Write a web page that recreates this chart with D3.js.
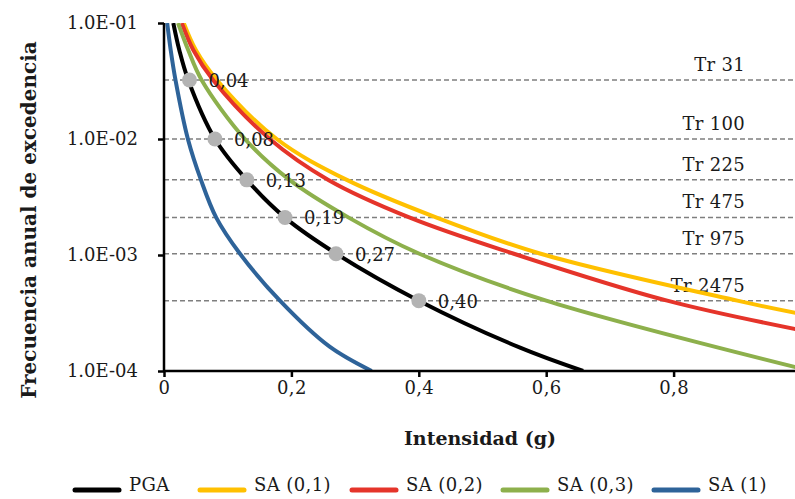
<!DOCTYPE html>
<html>
<head>
<meta charset="utf-8">
<script src="https://cdn.jsdelivr.net/npm/d3@7"></script>
<style>
  body { margin: 0; background: #fff; }
  svg { display: block; font-family: "DejaVu Serif", serif; }
</style>
</head>
<body>
<svg width="795" height="499"></svg>
<script>
"use strict"

// hazard curves: intensity (g) vs annual exceedance frequency
const seriesNames = ["PGA", "SA (0,1)", "SA (0,2)", "SA (0,3)", "SA (1)"]
const seriesColors = ["#000000", "#FFC000", "#E5342A", "#8DB04C", "#2E6399"]

const pgaX = [0.0146, 0.024, 0.038, 0.08, 0.13, 0.19, 0.27, 0.40, 0.56, 0.658]
const pgaY = [1e-1, 5.85e-2, 3.23e-2, 1e-2, 4.44e-3, 2.1e-3, 1.03e-3, 4.04e-4, 1.58e-4, 1e-4]

const sa01X = [0.031, 0.050, 0.083, 0.177, 0.287, 0.428, 0.59, 0.90, 1.0]
const sa01Y = [1e-1, 5.85e-2, 3.23e-2, 1e-2, 4.44e-3, 2.1e-3, 1.03e-3, 4.04e-4, 3.1e-4]

const sa02X = [0.028, 0.046, 0.077, 0.166, 0.258, 0.386, 0.548, 0.79, 1.0]
const sa02Y = [1e-1, 5.85e-2, 3.23e-2, 1e-2, 4.44e-3, 2.1e-3, 1.03e-3, 4.04e-4, 2.25e-4]

const sa03X = [0.022, 0.038, 0.059, 0.127, 0.197, 0.29, 0.40, 0.60, 1.0]
const sa03Y = [1e-1, 5.85e-2, 3.23e-2, 1e-2, 4.44e-3, 2.1e-3, 1.03e-3, 4.04e-4, 1.05e-4]

const sa1X = [0.005, 0.0105, 0.018, 0.0375, 0.058, 0.082, 0.119, 0.182, 0.26, 0.326]
const sa1Y = [1e-1, 5.85e-2, 3.23e-2, 1e-2, 4.44e-3, 2.1e-3, 1.03e-3, 4.04e-4, 1.62e-4, 1e-4]

// return periods and the PGA read at each one
const returnPeriods = [31, 100, 225, 475, 975, 2475]
const pgaAtTr = [0.04, 0.08, 0.13, 0.19, 0.27, 0.40]
const pgaLabels = ["0,04", "0,08", "0,13", "0,19", "0,27", "0,40"]

const yTicks = [1e-1, 1e-2, 1e-3, 1e-4]
const yTickLabels = ["1.0E-01", "1.0E-02", "1.0E-03", "1.0E-04"]
const xTicks = [0, 0.2, 0.4, 0.6, 0.8, 1]
const xTickLabels = ["0", "0,2", "0,4", "0,6", "0,8", "1"]

const seriesX = [pgaX, sa01X, sa02X, sa03X, sa1X]
const seriesY = [pgaY, sa01Y, sa02Y, sa03Y, sa1Y]

const plotLeft = 164
const plotRight = 801
const plotTop = 23
const plotBottom = 371
const textColor = "#1a1a1a"

const svg = d3.select("svg")

const x = d3.scaleLinear().domain([0, 1]).range([plotLeft, plotRight])
const y = d3.scaleLog().domain([1e-4, 1e-1]).range([plotBottom, plotTop])

svg.append("clipPath")
    .attr("id", "plot")
    .append("rect")
    .attr("x", plotLeft)
    .attr("y", plotTop)
    .attr("width", plotRight - plotLeft)
    .attr("height", plotBottom - plotTop)

// return period guide lines
const trGroup = svg.append("g")
returnPeriods.forEach((tr) => {
    const yy = y(1 / tr)
    trGroup.append("line")
        .attr("x1", plotLeft)
        .attr("x2", 795)
        .attr("y1", yy)
        .attr("y2", yy)
        .attr("stroke", "#7f7f7f")
        .attr("stroke-width", 1.5)
        .attr("stroke-dasharray", "5,3")
    trGroup.append("text")
        .attr("x", 745)
        .attr("y", yy - 9)
        .attr("text-anchor", "end")
        .attr("font-size", "18px")
        .attr("letter-spacing", "0.3px")
        .attr("fill", textColor)
        .text(`Tr ${tr}`)
})

// curves
const line = d3.line()
    .x((d) => x(d[0]))
    .y((d) => y(d[1]))
    .curve(d3.curveCatmullRom.alpha(0.5))

const curves = svg.append("g").attr("clip-path", "url(#plot)")
const drawOrder = [4, 1, 2, 3, 0]
drawOrder.forEach((i) => {
    const pts = seriesX[i].map((v, j) => [v, seriesY[i][j]])
    curves.append("path")
        .attr("d", line(pts))
        .attr("fill", "none")
        .attr("stroke", seriesColors[i])
        .attr("stroke-width", 4)
})

// axes
const yAxis = d3.axisLeft(y)
    .tickValues(yTicks)
    .tickFormat((d, i) => yTickLabels[i])
    .tickSize(6)
    .tickPadding(20)
const gy = svg.append("g").attr("transform", `translate(${plotLeft},0)`).call(yAxis)

const xAxis = d3.axisBottom(x)
    .tickValues(xTicks)
    .tickFormat((d, i) => xTickLabels[i])
    .tickSize(6)
    .tickPadding(4)
const gx = svg.append("g").attr("transform", `translate(0,${plotBottom})`).call(xAxis)

;[gx, gy].forEach((g) => {
    g.select(".domain").attr("stroke", "#000").attr("stroke-width", 2.5)
    g.selectAll(".tick line").attr("stroke", "#000").attr("stroke-width", 2.5)
    g.selectAll(".tick text")
        .attr("font-family", "DejaVu Serif, serif")
        .attr("font-size", "18px")
        .attr("fill", textColor)
})
gx.selectAll(".tick text").attr("letter-spacing", "0.4px")
gy.select(".domain").attr("d", `M0,${plotTop}V${plotBottom}`)
gx.select(".domain").attr("d", `M${plotLeft},0H${plotRight}`)

// PGA points at the return periods
const dots = svg.append("g")
returnPeriods.forEach((tr, i) => {
    const cx = x(pgaAtTr[i])
    const cy = y(1 / tr)
    dots.append("circle")
        .attr("cx", cx)
        .attr("cy", cy)
        .attr("r", 7.5)
        .attr("fill", "#b3b3b3")
    dots.append("text")
        .attr("x", cx + 19)
        .attr("y", cy + 7)
        .attr("font-size", "18px")
        .attr("fill", textColor)
        .text(pgaLabels[i])
})

// axis titles
svg.append("text")
    .attr("x", 480)
    .attr("y", 445)
    .attr("text-anchor", "middle")
    .attr("font-weight", "bold")
    .attr("font-size", "19px")
    .attr("fill", textColor)
    .text("Intensidad (g)")

svg.append("text")
    .attr("transform", "translate(36,220) rotate(-90)")
    .attr("text-anchor", "middle")
    .attr("font-weight", "bold")
    .attr("font-size", "20px")
    .attr("fill", textColor)
    .text("Frecuencia anual de excedencia")

// legend
const legendSwatchX = [73, 198, 350, 501, 652]
const legend = svg.append("g")
seriesNames.forEach((name, i) => {
    legend.append("line")
        .attr("x1", legendSwatchX[i] + 2)
        .attr("x2", legendSwatchX[i] + 46)
        .attr("y1", 490)
        .attr("y2", 490)
        .attr("stroke", seriesColors[i])
        .attr("stroke-width", 5)
        .attr("stroke-linecap", "round")
    legend.append("text")
        .attr("x", legendSwatchX[i] + 56)
        .attr("y", 491)
        .attr("font-size", "18px")
        .attr("letter-spacing", "0.4px")
        .attr("fill", textColor)
        .text(name)
})
</script>
</body>
</html>
